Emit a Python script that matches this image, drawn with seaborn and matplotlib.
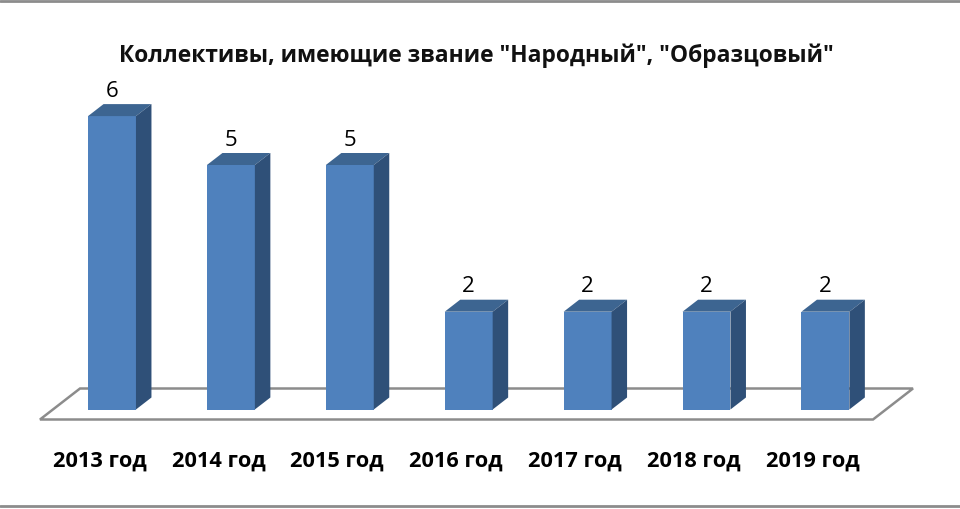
"""Bar chart with a faked 3D look, drawn on top of a seaborn barplot."""

import matplotlib
matplotlib.use('Agg')
import matplotlib.pyplot as plt
import matplotlib.transforms as mtrans
import pandas as pd
import seaborn as sns
from matplotlib.lines import Line2D
from matplotlib.patches import Polygon

years = ['2013 год', '2014 год', '2015 год', '2016 год', '2017 год', '2018 год', '2019 год']
counts = [6, 5, 5, 2, 2, 2, 2]
title = 'Коллективы, имеющие звание "Народный", "Образцовый"'

FRONT = '#4f81bd'
TOP = '#3d6591'
SIDE = '#2f5078'
FLOOR = '#8c8c8c'

sns.set_theme(style='white')
plt.rcParams['font.family'] = ['Open Sans', 'Noto Sans', 'DejaVu Sans']

W, H = 960, 510
fig = plt.figure(figsize=(W / 100, H / 100), dpi=100)
# axes box in pixels: x 40..913, y 90..410.5 from the top
ax = fig.add_axes([40 / W, (H - 410.5) / H, 873 / W, 320.5 / H])

df = pd.DataFrame({'year': years, 'count': counts})
sns.barplot(data=df, x='year', y='count', color=FRONT, saturation=1, width=0.403,
            ax=ax, zorder=3)

step = 118.9
unit = 48.9
ax.set_xlim((40 - 112) / step, (913 - 112) / step)
ax.set_ylim(0, 320.5 / unit)
ax.set_xlabel('')
ax.set_ylabel('')
ax.set_yticks([])
ax.tick_params(axis='x', length=0, pad=29)
# the year labels sit a little left of their bars
shift = mtrans.ScaledTranslation(-12.5 / 100, 0, fig.dpi_scale_trans)
for lab in ax.get_xticklabels():
    lab.set_fontsize(15.7)
    lab.set_fontweight('bold')
    lab.set_color('black')
    lab.set_transform(lab.get_transform() + shift)
sns.despine(ax=ax, left=True, bottom=True)

dx = 15.5 / step
dy = 12 / unit

# floor plate under the bars
x0 = ax.get_xlim()[0]
fl = [(x0, -10 / unit), (x0 + 833 / step, -10 / unit),
      (x0 + 873 / step, 21 / unit), (x0 + 40 / step, 21 / unit)]
ax.add_patch(Polygon(fl, closed=True, fill=False, edgecolor=FLOOR, linewidth=1.8,
                     clip_on=False, zorder=1))

# top and side faces for each bar
for bar in list(ax.containers[0]):
    x, w, h = bar.get_x(), bar.get_width(), bar.get_height()
    bar.set_edgecolor('none')
    ax.add_patch(Polygon([(x, h), (x + w, h), (x + w + dx, h + dy), (x + dx, h + dy)],
                         closed=True, facecolor=TOP, edgecolor='none', clip_on=False, zorder=3))
    ax.add_patch(Polygon([(x + w, 0), (x + w + dx, dy), (x + w + dx, h + dy), (x + w, h)],
                         closed=True, facecolor=SIDE, edgecolor='none', clip_on=False, zorder=3))

ax.bar_label(ax.containers[0], labels=[str(c) for c in counts], padding=11, fontsize=16,
             color='black', clip_on=False)

fig.text(476.5 / W, 1 - 56 / H, title, ha='center', va='center', fontsize=16.4,
         fontweight='bold', color='#111111')

# thin grey rules at top and bottom of the slide
for yp in (1.5, 507):
    fig.add_artist(Line2D([0, 1], [1 - yp / H, 1 - yp / H], color='#8c8c8c', linewidth=2))

fig.savefig('out.png', dpi=100)
